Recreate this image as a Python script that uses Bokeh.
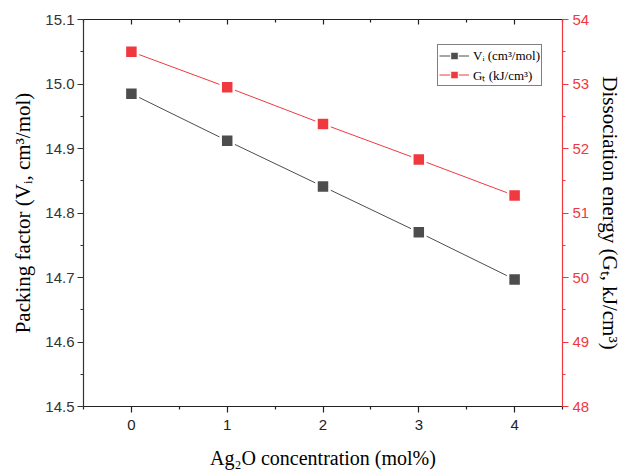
from bokeh.plotting import figure
from bokeh.models import Range1d, LinearAxis, FixedTicker, Legend, LegendItem, NumeralTickFormatter
from bokeh.embed import file_html
from bokeh.resources import INLINE

# data
ag2o = [0, 1, 2, 3, 4]
vi = [14.985, 14.912, 14.841, 14.770, 14.697]
gt = [53.50, 52.95, 52.38, 51.83, 51.27]

x_major = [0, 1, 2, 3, 4]
x_minor = [-0.5, 0.5, 1.5, 2.5, 3.5, 4.5]
yl_major = [14.5, 14.6, 14.7, 14.8, 14.9, 15.0, 15.1]
yl_minor = [14.55, 14.65, 14.75, 14.85, 14.95, 15.05]
yr_major = [48, 49, 50, 51, 52, 53, 54]
yr_minor = [48.5, 49.5, 50.5, 51.5, 52.5, 53.5]

GREY = "#4d4d4d"
RED = "#f0393f"
SERIF = "Liberation Serif"
SANS = "Liberation Sans"

p = figure(frame_width=479, frame_height=387, output_backend="svg", toolbar_location=None,
           x_range=Range1d(-0.5, 4.5), y_range=Range1d(14.5, 15.1),
           min_border_left=83, min_border_right=20, min_border_top=19, min_border_bottom=20,
           x_axis_location=None, y_axis_location=None)
p.extra_y_ranges = {"g": Range1d(48, 54)}
p.xgrid.visible = False
p.ygrid.visible = False
p.outline_line_color = None
p.background_fill_color = "white"

def style(ax, color, labelcolor, tick_out=True):
    ax.axis_line_color = color
    ax.axis_line_width = 1.2
    ax.major_tick_line_color = color
    ax.minor_tick_line_color = color
    ax.major_tick_line_width = 1.2
    ax.minor_tick_line_width = 1.2
    if tick_out:
        ax.major_tick_out = 6
        ax.major_tick_in = 0
        ax.minor_tick_out = 3
        ax.minor_tick_in = 0
    else:
        ax.major_tick_out = 0
        ax.major_tick_in = 5
        ax.minor_tick_out = 0
        ax.minor_tick_in = 3
    ax.major_label_text_font = SANS
    ax.major_label_text_font_size = "15px"
    ax.major_label_text_color = labelcolor
    ax.axis_label_text_font = SERIF
    ax.axis_label_text_font_size = "21px"
    ax.axis_label_text_font_style = "normal"
    ax.axis_label_text_color = "black"

xb = LinearAxis(ticker=FixedTicker(ticks=x_major, minor_ticks=x_minor),
                axis_label="Ag\u2082O concentration (mol%)")
style(xb, "#222222", "#222222")
xb.axis_label_text_font_size = "20px"
xb.major_label_standoff = 7
xb.axis_label_standoff = 14
p.add_layout(xb, "below")

xt = LinearAxis(ticker=FixedTicker(ticks=x_major, minor_ticks=x_minor))
style(xt, "#222222", "#222222", tick_out=False)
xt.major_label_text_color = None
xt.major_label_text_alpha = 0
xt.major_label_standoff = 0
p.add_layout(xt, "above")

yl = LinearAxis(ticker=FixedTicker(ticks=yl_major, minor_ticks=yl_minor),
                formatter=NumeralTickFormatter(format="0.0"),
                axis_label="Packing factor (V\u1d62, cm\u00b3/mol)")
style(yl, "#333333", "#333333")
yl.major_label_standoff = 3
yl.axis_label_standoff = 7
p.add_layout(yl, "left")

yr = LinearAxis(y_range_name="g", ticker=FixedTicker(ticks=yr_major, minor_ticks=yr_minor),
                axis_label="Dissociation energy (G\u209c, kJ/cm\u00b3)")
style(yr, RED, RED)
yr.major_label_standoff = 4
yr.axis_label_standoff = 6
p.add_layout(yr, "right")

lv = p.line(ag2o, vi, line_color=GREY, line_width=1)
sv = p.scatter(ag2o, vi, marker="square", size=13, fill_color=GREY,
               line_color="white", line_width=2.5)
lg = p.line(ag2o, gt, line_color=RED, line_width=1, y_range_name="g")
sg = p.scatter(ag2o, gt, marker="square", size=13, fill_color=RED,
               line_color="white", line_width=2.5, y_range_name="g")

# legend-only swatches (a single NaN point, never drawn in the plot area)
nan = [float("nan")]
lv_k = p.line(nan, nan, line_color=GREY, line_width=1)
sv_k = p.scatter(nan, nan, marker="square", fill_color=GREY, line_color="white", line_width=1)
lg_k = p.line(nan, nan, line_color=RED, line_width=1)
sg_k = p.scatter(nan, nan, marker="square", fill_color=RED, line_color="white", line_width=1)

legend = Legend(items=[LegendItem(label="V\u1d62 (cm\u00b3/mol)", renderers=[lv_k, sv_k]),
                       LegendItem(label="G\u209c (kJ/cm\u00b3)", renderers=[lg_k, sg_k])],
                location=(354, 320))
legend.label_text_font = SERIF
legend.label_text_font_size = "13px"
legend.label_text_color = "black"
legend.border_line_color = "black"
legend.border_line_width = 1
legend.background_fill_alpha = 1
legend.padding = 1
legend.margin = 0
legend.spacing = 0
legend.glyph_width = 30
legend.glyph_height = 19
legend.label_height = 19
legend.label_standoff = 4
p.add_layout(legend, "center")

open("out.html", "w").write(file_html(p, INLINE))
